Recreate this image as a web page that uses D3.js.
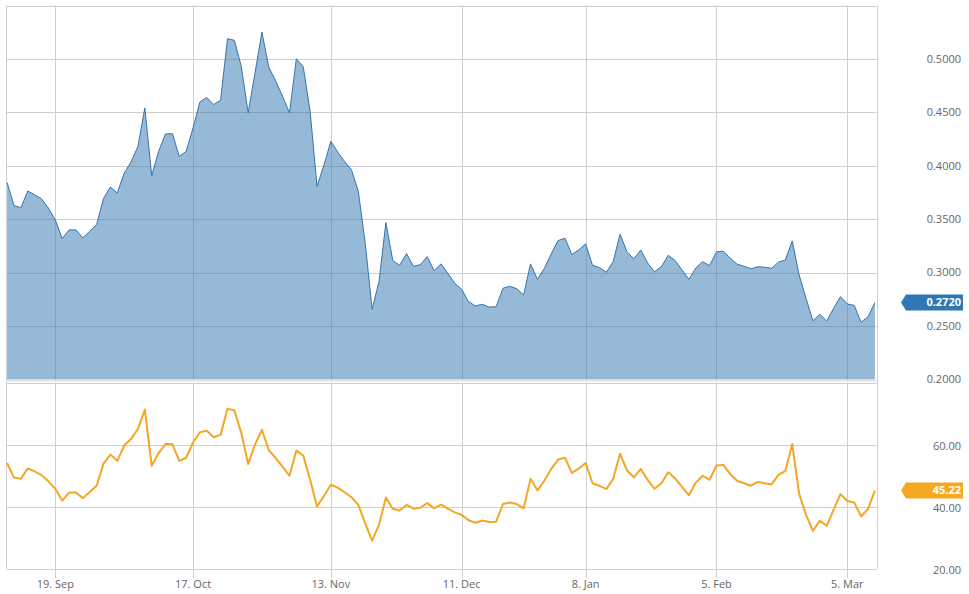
<!DOCTYPE html>
<html>
<head>
<meta charset="utf-8">
<script src="https://cdn.jsdelivr.net/npm/d3@7/dist/d3.min.js"></script>
<style>
  html, body { margin: 0; padding: 0; background: #fff; }
  svg { display: block; }
  text { font-family: "Open Sans", sans-serif; }
</style>
</head>
<body>
<svg id="chart" width="969" height="594"></svg>
<script>
// ---- data (one point per trading day, equally spaced) ----
const priceValues = [
  0.3844, 0.3629, 0.3607, 0.3764, 0.3729, 0.3691, 0.3604, 0.3494, 0.3319, 0.3400,
  0.3400, 0.3326, 0.3388, 0.3450, 0.3694, 0.3801, 0.3745, 0.3932, 0.4036, 0.4182,
  0.4542, 0.3907, 0.4135, 0.4298, 0.4301, 0.4088, 0.4135, 0.4355, 0.4598, 0.4639,
  0.4573, 0.4614, 0.5189, 0.5174, 0.4932, 0.4495, 0.4870, 0.5251, 0.4923, 0.4792,
  0.4650, 0.4495, 0.5002, 0.4927, 0.4510, 0.3807, 0.4004, 0.4229, 0.4130, 0.4040,
  0.3963, 0.3760, 0.3276, 0.2657, 0.2916, 0.3469, 0.3113, 0.3069, 0.3178, 0.3060,
  0.3075, 0.3150, 0.3019, 0.3082, 0.2994, 0.2900, 0.2844, 0.2728, 0.2688, 0.2704,
  0.2678, 0.2681, 0.2854, 0.2872, 0.2850, 0.2791, 0.3082, 0.2938, 0.3038, 0.3175,
  0.3300, 0.3323, 0.3169, 0.3213, 0.3269, 0.3069, 0.3047, 0.3004, 0.3103, 0.3360,
  0.3196, 0.3128, 0.3212, 0.3091, 0.3009, 0.3056, 0.3163, 0.3113, 0.3025, 0.2938,
  0.3044, 0.3103, 0.3066, 0.3194, 0.3201, 0.3135, 0.3079, 0.3060, 0.3035, 0.3056,
  0.3050, 0.3041, 0.3098, 0.3119, 0.3297, 0.2978, 0.2760, 0.2550, 0.2610, 0.2547,
  0.2666, 0.2775, 0.2706, 0.2694, 0.2535, 0.2587, 0.2720
];
const indicatorValues = [
  54.1, 49.4, 49.0, 52.4, 51.4, 50.2, 48.2, 45.8, 42.0, 44.6,
  44.6, 42.8, 44.8, 46.8, 53.9, 56.8, 54.8, 59.7, 61.8, 65.1,
  71.3, 53.2, 57.3, 60.2, 60.2, 54.8, 55.8, 60.7, 64.0, 64.5,
  62.4, 63.2, 71.6, 71.0, 63.8, 53.8, 60.0, 64.8, 58.2, 55.7,
  52.9, 50.0, 58.1, 56.5, 48.7, 40.1, 43.5, 47.1, 46.2, 44.7,
  43.1, 40.6, 34.7, 29.1, 34.2, 43.0, 39.4, 38.8, 40.6, 39.4,
  39.7, 41.2, 39.5, 40.7, 39.4, 38.2, 37.4, 35.7, 34.9, 35.6,
  35.1, 35.2, 40.9, 41.4, 40.9, 39.5, 49.0, 45.3, 48.4, 52.2,
  55.2, 55.8, 50.9, 52.3, 54.1, 47.6, 46.8, 45.7, 49.0, 57.1,
  51.7, 49.5, 52.2, 48.7, 45.8, 47.6, 51.1, 49.1, 46.4, 43.7,
  47.8, 50.0, 48.7, 53.3, 53.5, 50.5, 48.4, 47.6, 46.8, 48.0,
  47.6, 47.2, 50.3, 51.6, 60.2, 44.2, 37.4, 32.3, 35.5, 33.9,
  39.0, 44.1, 41.9, 41.4, 36.9, 39.3, 45.22
];
const xTickIndex  = [7, 27, 47, 66, 84, 103, 122];
const xTickLabels = ["19. Sep", "17. Oct", "13. Nov", "11. Dec", "8. Jan", "5. Feb", "5. Mar"];
const priceTicks  = [0.20, 0.25, 0.30, 0.35, 0.40, 0.45, 0.50];
const priceGrid   = [0.25, 0.30, 0.35, 0.40, 0.45, 0.50, 0.55];
const indTicks    = [20, 40, 60];
const indGrid     = [20, 40, 60, 80];
const lastPriceLabel = "0.2720";
const lastIndLabel   = "45.22";

// ---- layout ----
const svg = d3.select("#chart");
const L = 7.09, R = 876.5;
const upTop = 5.5, upBot = 379.5;
const loTop = 382.5, loBot = 569;

const x = d3.scaleLinear().domain([0, priceValues.length - 1]).range([L, 874.9]);
const yP = d3.scaleLinear().domain([0.20, 0.55]).range([upBot, upTop]);
const yI = d3.scaleLinear().domain([20, 80]).range([loBot, loTop]);
const crisp = v => Math.round(v) + 0.5;

const gridColor = "#cfcfcf";
const labelColor = "#666";

// gridlines upper
const g = svg.append("g");
g.selectAll(".hgU").data(priceGrid).join("line")
  .attr("x1", L).attr("x2", R)
  .attr("y1", d => crisp(yP(d))).attr("y2", d => crisp(yP(d)))
  .attr("stroke", gridColor).attr("stroke-width", 1);
g.selectAll(".vgU").data(xTickIndex).join("line")
  .attr("x1", d => crisp(x(d))).attr("x2", d => crisp(x(d)))
  .attr("y1", upTop).attr("y2", upBot)
  .attr("stroke", gridColor);
// gridlines lower
g.selectAll(".hgL").data(indGrid).join("line")
  .attr("x1", L).attr("x2", R)
  .attr("y1", d => crisp(yI(d))).attr("y2", d => crisp(yI(d)))
  .attr("stroke", gridColor);
g.selectAll(".vgL").data(xTickIndex).join("line")
  .attr("x1", d => crisp(x(d))).attr("x2", d => crisp(x(d)))
  .attr("y1", loTop).attr("y2", loBot + 9)
  .attr("stroke", gridColor);
// borders
g.append("line").attr("x1", crisp(L) - 1).attr("x2", crisp(L) - 1)
  .attr("y1", upTop).attr("y2", loBot).attr("stroke", gridColor);
g.append("line").attr("x1", crisp(R)).attr("x2", crisp(R))
  .attr("y1", upTop).attr("y2", loBot).attr("stroke", gridColor);

// area + line (price)
const area = d3.area().x((d, i) => x(i)).y0(yP(0.20)).y1(d => yP(d));
const line = d3.line().x((d, i) => x(i)).y(d => yP(d));
svg.append("path").datum(priceValues).attr("d", area)
  .attr("fill", "#2b73b0").attr("fill-opacity", 0.5);
svg.append("path").datum(priceValues).attr("d", line)
  .attr("fill", "none").attr("stroke", "#3574ad").attr("stroke-width", 1)
  .attr("stroke-linejoin", "round");
// separator under upper panel (x-axis line of upper pane)
svg.append("line").attr("x1", L - 1).attr("x2", R)
  .attr("y1", upBot + 1).attr("y2", upBot + 1)
  .attr("stroke", "#e2e2e2").attr("stroke-width", 2);

// indicator line
const lineI = d3.line().x((d, i) => x(i)).y(d => yI(d));
svg.append("path").datum(indicatorValues).attr("d", lineI)
  .attr("fill", "none").attr("stroke", "#f5a623").attr("stroke-width", 2)
  .attr("stroke-linejoin", "round");

// y labels
svg.selectAll(".pl").data(priceTicks).join("text")
  .attr("x", 961).attr("y", d => yP(d)).attr("dy", "0.35em")
  .attr("text-anchor", "end").attr("font-size", 11).attr("fill", labelColor)
  .text(d => d3.format(".4f")(d));
svg.selectAll(".il").data(indTicks).join("text")
  .attr("x", 961).attr("y", d => yI(d) + 1).attr("dy", "0.35em")
  .attr("text-anchor", "end").attr("font-size", 11).attr("fill", labelColor)
  .text(d => d3.format(".2f")(d));
// x labels
svg.selectAll(".xl").data(xTickIndex).join("text")
  .attr("x", d => x(d)).attr("y", 588)
  .attr("text-anchor", "middle").attr("font-size", 11).attr("fill", labelColor)
  .text((d, i) => xTickLabels[i]);

// last value flags
function flag(yc, color, label) {
  const h = 16, xl = 906, xr = 963, tip = 901;
  svg.append("path")
    .attr("d", `M${tip},${yc} L${xl},${yc - h / 2} L${xr},${yc - h / 2} L${xr},${yc + h / 2} L${xl},${yc + h / 2} Z`)
    .attr("fill", color);
  svg.append("text").attr("x", 961).attr("y", yc).attr("dy", "0.35em")
    .attr("text-anchor", "end").attr("font-size", 11).attr("font-weight", "bold")
    .attr("fill", "#fff").text(label);
}
flag(yP(priceValues[priceValues.length - 1]), "#2f78b4", lastPriceLabel);
flag(yI(indicatorValues[indicatorValues.length - 1]), "#f7a823", lastIndLabel);
</script>
</body>
</html>
